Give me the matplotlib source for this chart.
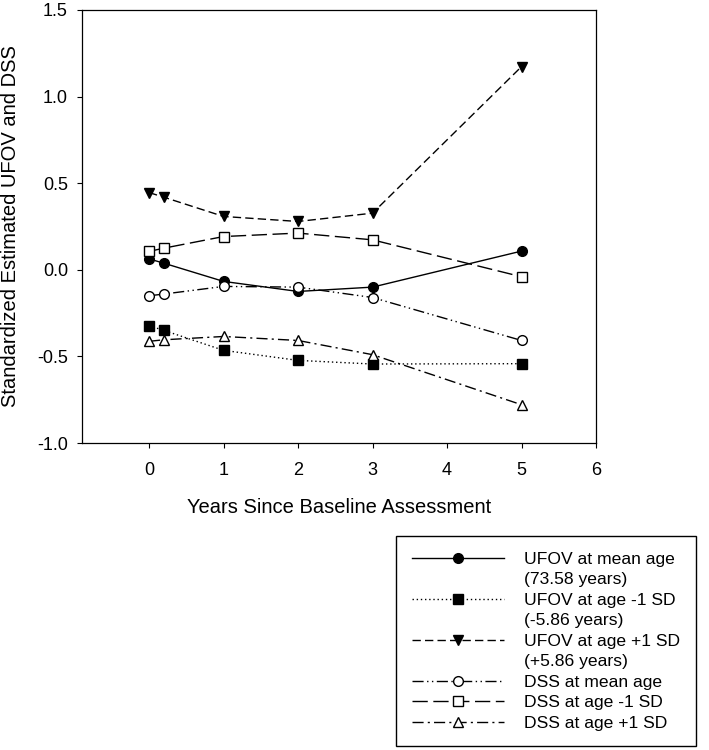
import matplotlib
matplotlib.use("Agg")
import matplotlib.pyplot as plt
from matplotlib.lines import Line2D

plt.rcParams['font.family'] = ['Liberation Sans', 'DejaVu Sans']

# years since baseline
years = [0, 0.2, 1, 2, 3, 5]

# estimated standardized scores
ufov_mean = [0.063, 0.038, -0.067, -0.125, -0.10, 0.108]
ufov_minus = [-0.323, -0.35, -0.465, -0.523, -0.544, -0.542]
ufov_plus = [0.446, 0.419, 0.308, 0.279, 0.327, 1.173]
dss_mean = [-0.15, -0.14, -0.096, -0.10, -0.16, -0.408]
dss_minus = [0.106, 0.125, 0.192, 0.212, 0.173, -0.04]
dss_plus = [-0.413, -0.404, -0.385, -0.408, -0.49, -0.779]

labels = [
    "UFOV at mean age", "(73.58 years)",
    "UFOV at age -1 SD", "(-5.86 years)",
    "UFOV at age +1 SD", "(+5.86 years)",
    "DSS at mean age",
    "DSS at age -1 SD",
    "DSS at age +1 SD",
]

xticks = [0, 1, 2, 3, 4, 5, 6]
yticks = [-1.0, -0.5, 0.0, 0.5, 1.0, 1.5]

W, H = 709, 750
fig = plt.figure(figsize=(W / 100, H / 100), dpi=100)
ax = fig.add_axes([82 / W, 1 - 443 / H, (596 - 82) / W, (443 - 10) / H])

lw = 1.0
styles = [
    (ufov_mean, '-', 'o', 'black'),
    (ufov_minus, (0, (1, 2)), 's', 'black'),
    (ufov_plus, (0, (6, 3)), 'v', 'black'),
    (dss_mean, (0, (8, 2.5, 1, 2.5, 1, 2.5)), 'o', 'white'),
    (dss_minus, (0, (11, 4)), 's', 'white'),
    (dss_plus, (0, (8, 3, 1.5, 3)), '^', 'white'),
]
sizes = {'o': 7, 's': 6.5, 'v': 7.5, '^': 7.5}

handles = []
for vals, ls, mk, fc in styles:
    h, = ax.plot(years, vals, linestyle=ls, color='black', lw=lw,
                 marker=mk, markersize=sizes[mk], markerfacecolor=fc,
                 markeredgecolor='black', markeredgewidth=1.0)
    handles.append(h)

# continuation lines of the two-line labels get an empty handle
blank = Line2D([], [], color='none')
leg_handles = [handles[0], blank, handles[1], blank, handles[2], blank,
               handles[3], handles[4], handles[5]]

ax.set_xlim(-0.9, 6)
ax.set_ylim(-1.0, 1.5)
ax.set_xticks(xticks)
ax.set_yticks(yticks)
ax.set_yticklabels([f"{v:.1f}" for v in yticks])
ax.tick_params(direction='out', length=3.6, width=0.8, labelsize=13)
ax.tick_params(axis='x', pad=10)
ax.tick_params(axis='y', pad=6.5)
for s in ax.spines.values():
    s.set_linewidth(0.9)

ax.set_xlabel("Years Since Baseline Assessment", fontsize=14.5, labelpad=14)
ax.set_ylabel("Standardized Estimated UFOV and DSS", fontsize=14.5, labelpad=12)

leg = fig.legend(leg_handles, labels, loc='upper left',
                 bbox_to_anchor=(396 / W, 1 - 536 / H), borderaxespad=0,
                 fontsize=12.6, frameon=True, fancybox=False,
                 edgecolor='black', framealpha=1, handlelength=5.3,
                 handletextpad=1.14, labelspacing=0.3, borderpad=0.89)
leg.get_frame().set_linewidth(1.0)

fig.savefig("out.png", dpi=100)
